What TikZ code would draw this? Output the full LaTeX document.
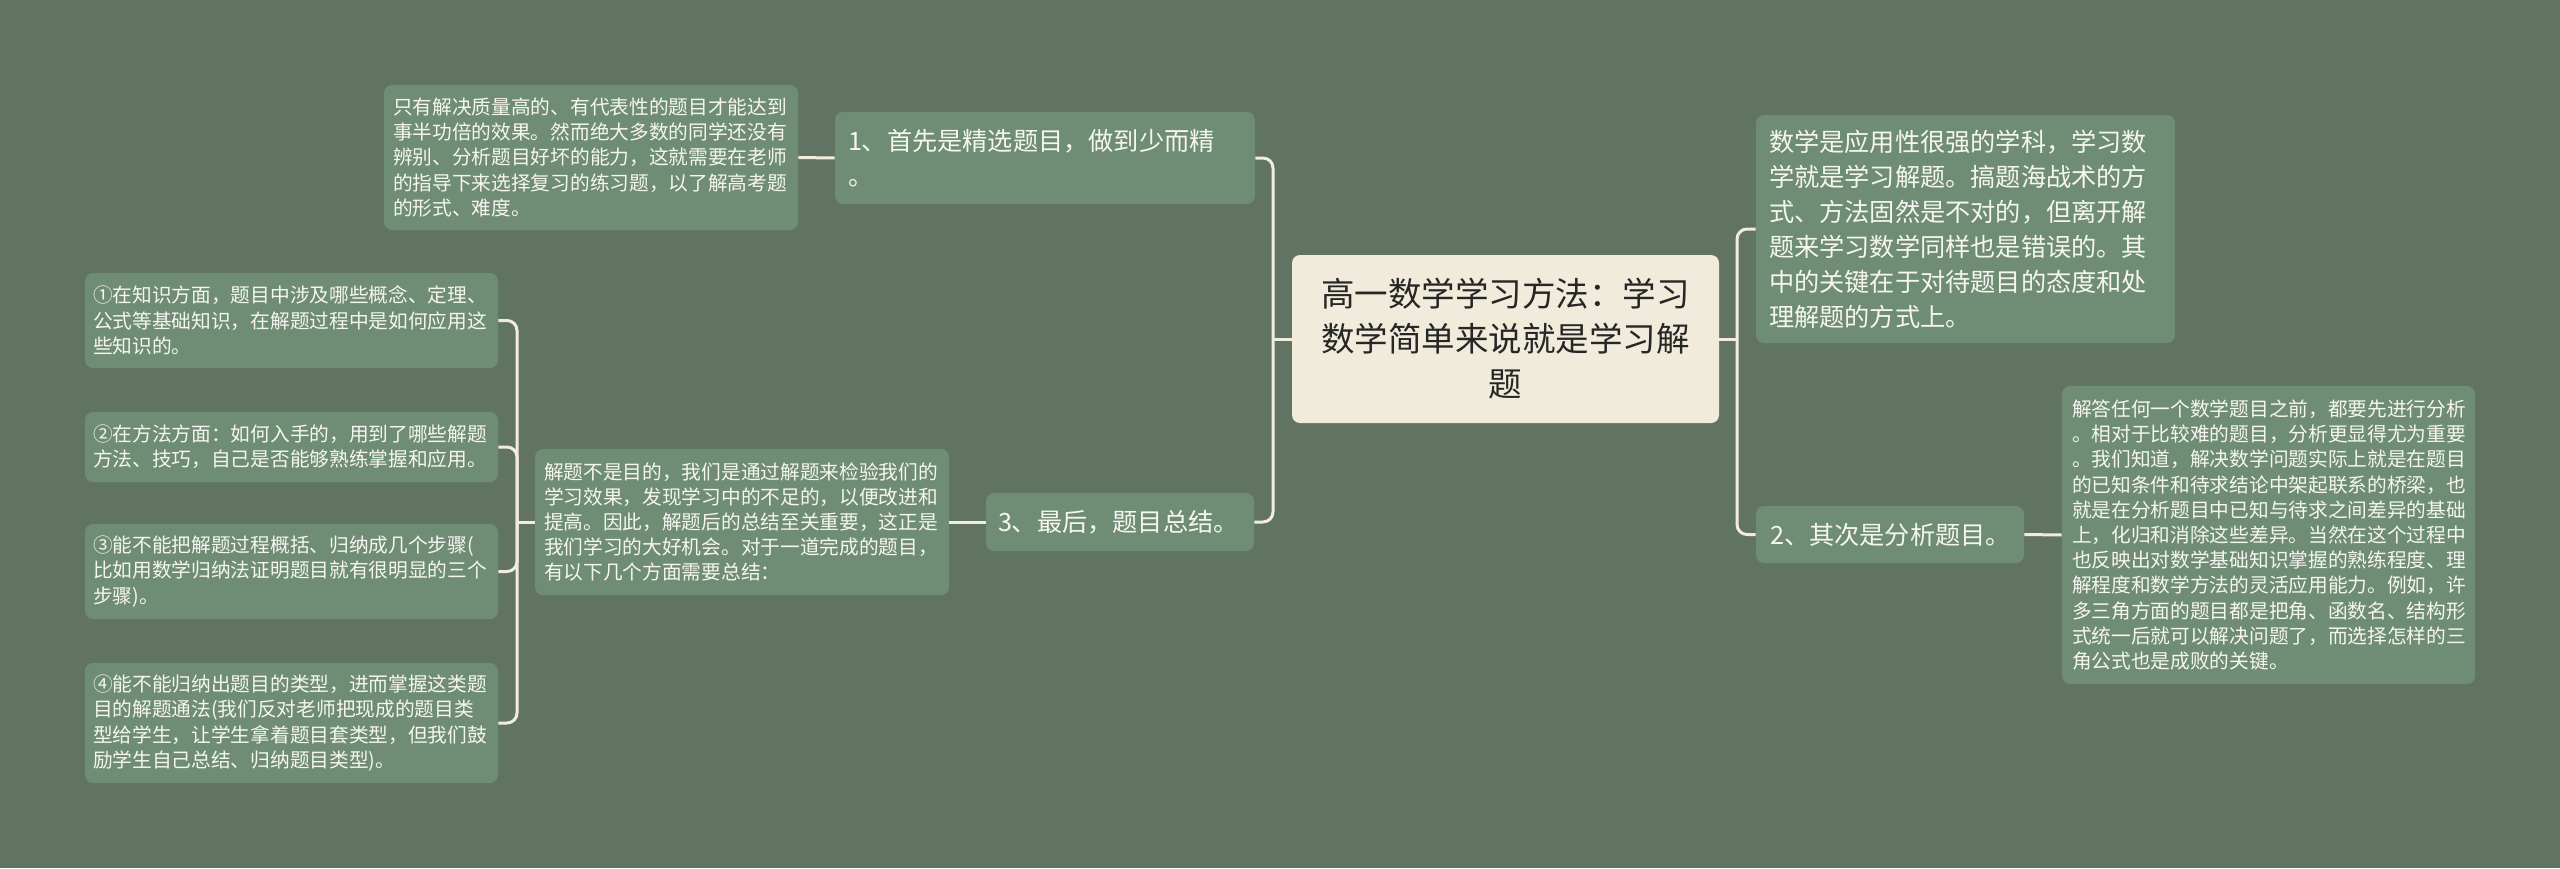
\documentclass[tikz,border=0pt]{standalone}
\usepackage{fontspec}
\setmainfont{Noto Sans CJK SC}
\usepackage{tikz}

\definecolor{bgcol}{RGB}{97,116,100}
\definecolor{boxcol}{RGB}{111,140,117}
\definecolor{rootcol}{RGB}{240,235,218}
\definecolor{linecol}{RGB}{241,236,220}
\definecolor{txtcol}{RGB}{246,246,240}

\tikzset{
  leaf/.style={fill=boxcol,rounded corners=4pt,text=txtcol,align=left,
    inner ysep=0pt,anchor=center},
  topic/.style={leaf,inner xsep=6.5pt,font=\fontsize{12.6}{17.5}\selectfont},
  note/.style={leaf,inner xsep=4.5pt,font=\fontsize{9.85}{12.6}\selectfont},
  link/.style={draw=linecol,line width=1.5pt,rounded corners=5pt}
}

\begin{document}
\begin{tikzpicture}[x=0.5pt,y=-0.5pt]
  \fill[bgcol] (0,0) rectangle (2560,868);
  \useasboundingbox (0,0) rectangle (2560,868);

  % root
  \node[fill=rootcol,rounded corners=4pt,text=black!85,align=center,
    minimum width=213.5pt,minimum height=84pt,inner sep=0pt,
    font=\fontsize{16.75}{22.5}\selectfont] (root) at (1505.5,339)
    {高一数学学习方法：学习\\数学简单来说就是学习解\\题};

  % right side
  \node[topic,text width=196.5pt,minimum height=114pt] (r1) at (1965.5,229)
    {数学是应用性很强的学科，学习数\\学就是学习解题。搞题海战术的方\\式、方法固然是不对的，但离开解\\题来学习数学同样也是错误的。其\\中的关键在于对待题目的态度和处\\理解题的方式上。};
  \node[topic,inner xsep=7pt,text width=120pt,minimum height=28.5pt] (b2) at (1890,534.5)
    {2、其次是分析题目。};
  \node[note,inner xsep=5pt,text width=196.5pt,minimum height=149pt] (r2) at (2268.5,535)
    {解答任何一个数学题目之前，都要先进行分析\\。相对于比较难的题目，分析更显得尤为重要\\。我们知道，解决数学问题实际上就是在题目\\的已知条件和待求结论中架起联系的桥梁，也\\就是在分析题目中已知与待求之间差异的基础\\上，化归和消除这些差异。当然在这个过程中\\也反映出对数学基础知识掌握的熟练程度、理\\解程度和数学方法的灵活应用能力。例如，许\\多三角方面的题目都是把角、函数名、结构形\\式统一后就可以解决问题了，而选择怎样的三\\角公式也是成败的关键。};

  % left side
  \node[topic,text width=197pt,minimum height=46pt] (b1) at (1045,158)
    {1、首先是精选题目，做到少而精\\。};
  \node[note,text width=198pt,minimum height=72.5pt] (t1) at (591,157.5)
    {只有解决质量高的、有代表性的题目才能达到\\事半功倍的效果。然而绝大多数的同学还没有\\辨别、分析题目好坏的能力，这就需要在老师\\的指导下来选择复习的练习题，以了解高考题\\的形式、难度。};
  \node[topic,inner xsep=6pt,text width=122pt,minimum height=29pt] (b3) at (1120,522)
    {3、最后，题目总结。};
  \node[note,text width=198pt,minimum height=73pt] (t3) at (742,522)
    {解题不是目的，我们是通过解题来检验我们的\\学习效果，发现学习中的不足的，以便改进和\\提高。因此，解题后的总结至关重要，这正是\\我们学习的大好机会。对于一道完成的题目，\\有以下几个方面需要总结：};

  \node[note,inner xsep=4pt,text width=198.5pt,minimum height=47.5pt] (l1) at (291.5,320.5)
    {①在知识方面，题目中涉及哪些概念、定理、\\公式等基础知识，在解题过程中是如何应用这\\些知识的。};
  \node[note,inner xsep=4pt,text width=198.5pt,minimum height=35pt] (l2) at (291.5,447)
    {②在方法方面：如何入手的，用到了哪些解题\\方法、技巧，自己是否能够熟练掌握和应用。};
  \node[note,inner xsep=4pt,text width=198.5pt,minimum height=47.5pt] (l3) at (291.5,571.5)
    {③能不能把解题过程概括、归纳成几个步骤(\\比如用数学归纳法证明题目就有很明显的三个\\步骤)。};
  \node[note,inner xsep=4pt,text width=198.5pt,minimum height=60pt] (l4) at (291.5,723)
    {④能不能归纳出题目的类型，进而掌握这类题\\目的解题通法(我们反对老师把现成的题目类\\型给学生，让学生拿着题目套类型，但我们鼓\\励学生自己总结、归纳题目类型)。};

  % connectors
  \coordinate (jr) at (1737,339);
  \draw[link] (root.east) -- (jr);
  \draw[link] (jr) |- (r1.west);
  \draw[link] (jr) |- (b2.west);
  \draw[link] (b2.east) -- (r2.west);

  \coordinate (jl) at (1273,339);
  \draw[link] (root.west) -- (jl);
  \draw[link] (jl) |- (b1.east);
  \draw[link] (jl) |- (b3.east);
  \draw[link] (b1.west) -- (t1.east);
  \draw[link] (b3.west) -- (t3.east);

  \coordinate (jt) at (517,522);
  \draw[link] (t3.west) -- (jt);
  \foreach \n in {l1,l2,l3,l4}
    \draw[link] (jt) |- (\n.east);
\end{tikzpicture}
\end{document}
